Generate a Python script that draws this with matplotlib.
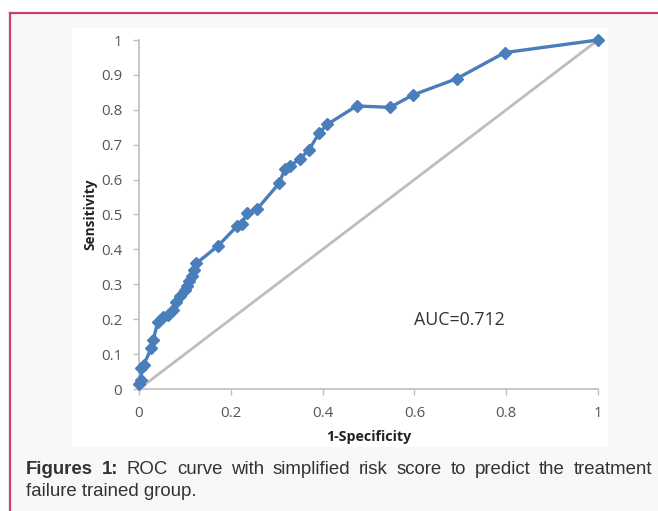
import matplotlib
matplotlib.use("Agg")
import matplotlib.pyplot as plt
from matplotlib.patches import Rectangle
from matplotlib.lines import Line2D

# ROC points
fpr = [0, 0.005, 0.005, 0.01, 0.027, 0.031, 0.041, 0.052, 0.063, 0.074, 0.081,
       0.089, 0.1, 0.105, 0.11, 0.115, 0.12, 0.125, 0.172, 0.214, 0.224, 0.235,
       0.257, 0.305, 0.318, 0.33, 0.351, 0.37, 0.393, 0.41, 0.474, 0.547, 0.596,
       0.692, 0.797, 1]
tpr = [0.015, 0.026, 0.06, 0.069, 0.117, 0.14, 0.193, 0.207, 0.212, 0.226, 0.25,
       0.266, 0.284, 0.296, 0.31, 0.325, 0.34, 0.36, 0.41, 0.467, 0.473, 0.504,
       0.515, 0.589, 0.63, 0.64, 0.66, 0.685, 0.734, 0.758, 0.811, 0.807, 0.842,
       0.889, 0.964, 1]
ref_line = [0, 1]
xticks = [0, 0.2, 0.4, 0.6, 0.8, 1]
yticks = [0, 0.1, 0.2, 0.3, 0.4, 0.5, 0.6, 0.7, 0.8, 0.9, 1]
auc_label = "AUC=0.712"
caption_bold = "Figures 1:"
caption_line1 = "ROC curve with simplified risk score to predict the treatment"
caption_line2 = "failure trained group."

W, H = 658, 511
fig = plt.figure(figsize=(W / 100, H / 100), dpi=100)
fig.patch.set_facecolor("white")


def px(x, y):
    # pixel (from top-left) -> figure fraction
    return x / W, 1 - y / H


# page background inside the pink frame
x0, y0 = px(10, 511)
fig.patches.append(Rectangle((x0, y0), 1 - x0, px(0, 13)[1] - y0,
                             transform=fig.transFigure, facecolor="#f8f7fa",
                             edgecolor="none", zorder=-2))
# white chart panel
x0, y0 = px(72, 447)
x1, y1 = px(608, 28)
fig.patches.append(Rectangle((x0, y0), x1 - x0, y1 - y0,
                             transform=fig.transFigure, facecolor="white",
                             edgecolor="none", zorder=-1))
# pink frame lines
fig.lines.append(Line2D([10 / W, 10 / W], [0, 1 - 13 / H], transform=fig.transFigure,
                        color="#c9416a", lw=1.6, zorder=-1))
fig.lines.append(Line2D([10 / W, 1], [1 - 13 / H, 1 - 13 / H], transform=fig.transFigure,
                        color="#c9416a", lw=1.6, zorder=-1))

left, top = px(139, 40)
right, bottom = px(598, 389)
ax = fig.add_axes([left, bottom, right - left, top - bottom])
ax.set_zorder(2)
ax.set_facecolor("none")

ax.plot(ref_line, ref_line, color="#bdbdbd", lw=2, zorder=2, clip_on=False)
ax.plot(fpr, tpr, color="#4a7ebb", lw=2.4, marker="D", markersize=6.5,
        markeredgecolor="#4a7ebb", zorder=3, clip_on=False)

ax.set_xlim(0, 1)
ax.set_ylim(0, 1)
ax.set_xticks(xticks)
ax.set_yticks(yticks)
ax.set_xticklabels([f"{v:g}" for v in xticks])
ax.set_yticklabels([f"{v:g}" for v in yticks])
for s in ["top", "right"]:
    ax.spines[s].set_visible(False)
for s in ["left", "bottom"]:
    ax.spines[s].set_color("#bfbfbf")
    ax.spines[s].set_linewidth(1.2)
ax.tick_params(colors="#bfbfbf", labelcolor="#555555", length=4, width=1,
               labelsize=10.8, pad=8)
ax.tick_params(axis="y", pad=8)
for lab in ax.get_xticklabels() + ax.get_yticklabels():
    lab.set_fontfamily("Open Sans")

ax.set_xlabel("1-Specificity", fontsize=10.3, fontweight="bold", family="Open Sans",
              color="#222222", labelpad=7)
ax.set_ylabel("Sensitivity", fontsize=9.8, fontweight="bold", family="Open Sans",
              color="#222222", labelpad=3)

ax.text(0.6, 0.198, auc_label, fontsize=12.8, family="Open Sans", color="#333333",
        va="center", ha="left")

# caption, first line justified to the right edge
fam = "Liberation Sans"
fs = 13.4
cap_y1 = 1 - 469 / H
cap_y2 = 1 - 491 / H
words = [(caption_bold.split()[0], "bold"), (caption_bold.split()[1], "bold")] + \
        [(w, "normal") for w in caption_line1.split()]
texts = [fig.text(0, cap_y1, w, fontsize=fs, family=fam, fontweight=wt,
                  color="#333333", va="center") for w, wt in words]
fig.canvas.draw()
r = fig.canvas.get_renderer()
widths = [t.get_window_extent(r).width for t in texts]
start, end = 26, 652
gap = (end - start - sum(widths)) / (len(texts) - 1)
xpos = start
for t, w in zip(texts, widths):
    t.set_x(xpos / W)
    xpos += w + gap
fig.text(26 / W, cap_y2, caption_line2, fontsize=fs, family=fam, color="#333333",
         va="center")

fig.savefig("out.png", dpi=100)
